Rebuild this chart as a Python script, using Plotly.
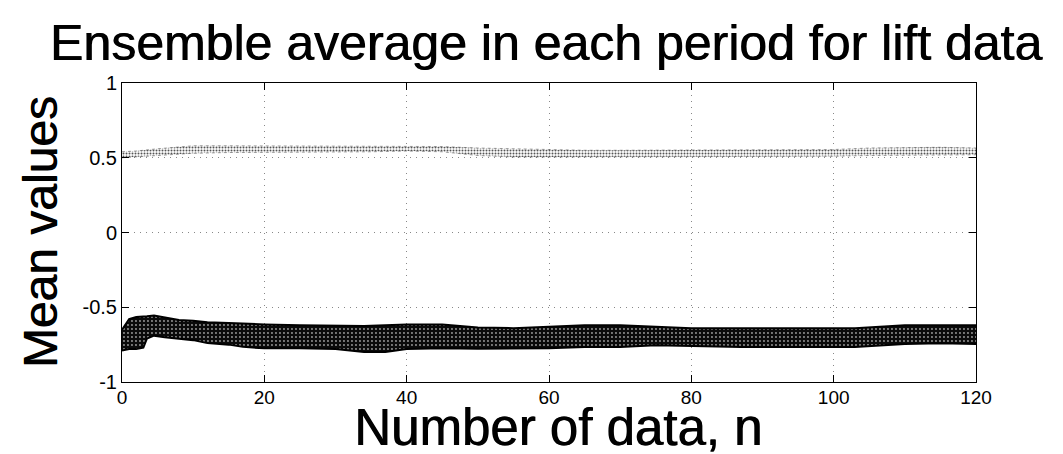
import plotly.graph_objects as go

# Lower (lift mean) band: envelope
low_x = [0, 1, 2, 3, 3.5, 4.5, 6, 8, 10, 12, 15, 17, 20, 25, 30, 34, 37, 40, 45, 50,
         55, 60, 65, 70, 75, 80, 87, 95, 103, 110, 115, 120]
low_top = [-0.65, -0.58, -0.565, -0.565, -0.56, -0.555, -0.57, -0.585, -0.59, -0.60,
           -0.605, -0.61, -0.615, -0.62, -0.625, -0.625, -0.62, -0.615, -0.615, -0.635,
           -0.64, -0.63, -0.62, -0.62, -0.632, -0.64, -0.64, -0.64, -0.64, -0.62, -0.62, -0.62]
low_bot = [-0.79, -0.78, -0.78, -0.77, -0.71, -0.69, -0.70, -0.71, -0.72, -0.74,
           -0.75, -0.765, -0.775, -0.775, -0.78, -0.80, -0.80, -0.78, -0.775, -0.777,
           -0.777, -0.775, -0.766, -0.766, -0.755, -0.76, -0.766, -0.766, -0.766, -0.745, -0.74, -0.745]

# Upper band
up_x = [0, 2, 5, 8, 10, 15, 20, 25, 30, 35, 40, 45, 50, 55, 60, 65, 70, 75, 80, 85,
        90, 95, 100, 105, 110, 115, 120]
up_top = [0.54, 0.545, 0.56, 0.575, 0.58, 0.58, 0.58, 0.575, 0.575, 0.58, 0.58, 0.575,
          0.565, 0.56, 0.555, 0.55, 0.55, 0.55, 0.55, 0.555, 0.555, 0.555, 0.555, 0.565,
          0.57, 0.57, 0.565]
up_bot = [0.50, 0.505, 0.515, 0.525, 0.53, 0.535, 0.535, 0.535, 0.535, 0.54, 0.545, 0.54,
          0.515, 0.505, 0.505, 0.505, 0.51, 0.51, 0.51, 0.505, 0.505, 0.505, 0.51, 0.515,
          0.515, 0.515, 0.52]

x_ticks = [0, 20, 40, 60, 80, 100, 120]
y_ticks = [-1, -0.5, 0, 0.5, 1]
y_tick_text = ["-1", "-0.5", "0", "0.5", "1"]

FONT = "Liberation Sans, Arial, sans-serif"
THICK = "0.8px 0 0 #000"

fig = go.Figure()

# upper band
fig.add_trace(go.Scatter(x=up_x, y=up_bot, mode="lines",
                         line=dict(color="rgba(80,80,80,0.7)", width=0.8, dash="dot"),
                         showlegend=False, hoverinfo="skip"))
fig.add_trace(go.Scatter(x=up_x, y=up_top, mode="lines", fill="tonexty",
                         fillcolor="white",
                         fillpattern=dict(shape=".", fgcolor="#555555", bgcolor="white",
                                          size=3, solidity=0.35, fillmode="replace"),
                         line=dict(color="rgba(80,80,80,0.7)", width=0.8, dash="dot"),
                         showlegend=False, hoverinfo="skip"))

# lower band
fig.add_trace(go.Scatter(x=low_x, y=low_bot, mode="lines",
                         line=dict(color="black", width=2),
                         showlegend=False, hoverinfo="skip"))
fig.add_trace(go.Scatter(x=low_x, y=low_top, mode="lines", fill="tonexty",
                         fillcolor="black",
                         fillpattern=dict(shape=".", fgcolor="#9a9a9a", bgcolor="#0a0a0a",
                                          size=4, solidity=0.18, fillmode="replace"),
                         line=dict(color="black", width=2),
                         showlegend=False, hoverinfo="skip"))

# page body adds an 8px offset, compensated in the margins
fig.update_layout(
    width=1063, height=454,
    margin=dict(l=114, r=95, t=75, b=80),
    paper_bgcolor="white", plot_bgcolor="white",
    font=dict(family=FONT, color="black"),
    title=dict(text="Ensemble average in each period for lift data",
               font=dict(family=FONT, size=50, color="black", shadow=THICK),
               x=0.506, xref="container", xanchor="center",
               y=0.923, yref="container", yanchor="middle"),
    showlegend=False,
)

fig.update_xaxes(range=[0, 120], tickvals=x_ticks, ticktext=[str(v) for v in x_ticks],
                 ticks="inside", ticklen=7, tickcolor="black", ticklabelstandoff=-2,
                 showline=True, linecolor="black", linewidth=1, mirror="ticks",
                 showgrid=True, gridcolor="#888888", griddash="1px,5px", gridwidth=1,
                 zeroline=False, tickfont=dict(size=19, family=FONT))
fig.update_yaxes(range=[-1, 1], tickvals=y_ticks, ticktext=y_tick_text,
                 ticks="inside", ticklen=7, tickcolor="black",
                 showline=True, linecolor="black", linewidth=1, mirror="ticks",
                 showgrid=True, gridcolor="#888888", griddash="1px,5px", gridwidth=1,
                 zeroline=False, tickfont=dict(size=20, family=FONT))

fig.add_annotation(text="Number of data, n", xref="paper", yref="paper",
                   x=0.51, y=-0.153, xanchor="center", yanchor="middle",
                   showarrow=False, font=dict(family=FONT, size=51, color="black", shadow=THICK))
fig.add_annotation(text="Mean values", xref="paper", yref="paper",
                   x=-0.095, y=0.5, xanchor="center", yanchor="middle", textangle=-90,
                   showarrow=False, font=dict(family=FONT, size=48, color="black", shadow=THICK))

fig.write_html("out.html")
